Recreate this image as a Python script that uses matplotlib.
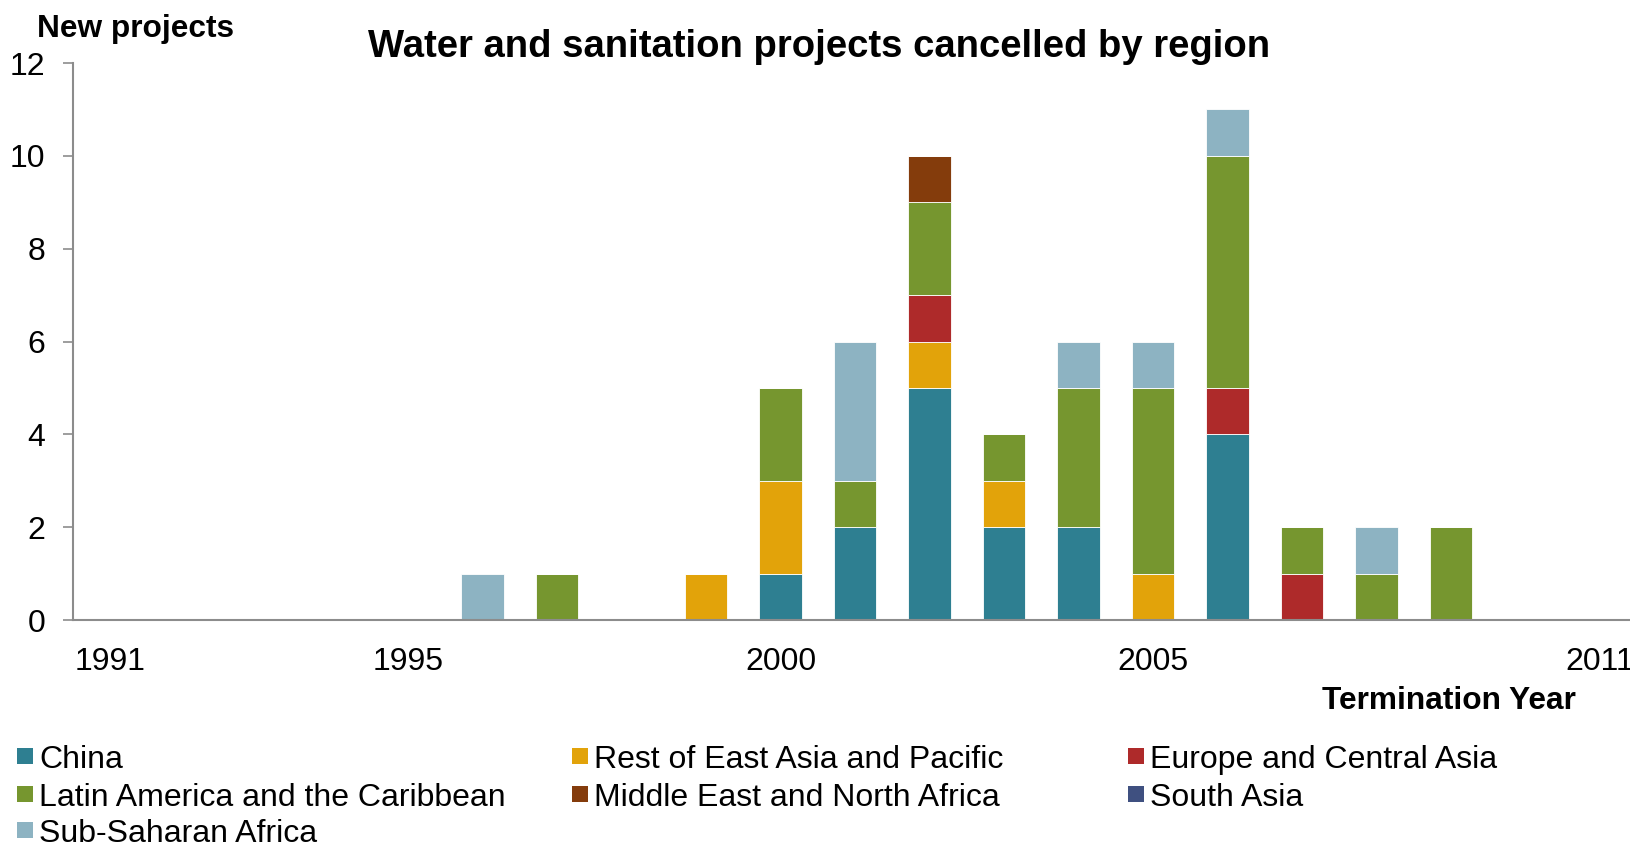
import matplotlib
matplotlib.use("Agg")
import matplotlib.pyplot as plt
from matplotlib.patches import Rectangle
import numpy as np

plt.rcParams['font.family'] = ['Liberation Sans', 'DejaVu Sans']

years = list(range(1991, 2012))
regions = ["China", "Rest of East Asia and Pacific", "Europe and Central Asia",
           "Latin America and the Caribbean", "Middle East and North Africa",
           "South Asia", "Sub-Saharan Africa"]
colors = ["#2E7F91", "#E2A30A", "#AE2A2A", "#76962F", "#843C0C", "#3F5080", "#8DB3C2"]

#            1991..2011
china = [0,0,0,0,0,0,0,0,0,1,2,5,2,2,0,4,0,0,0,0,0]
reap  = [0,0,0,0,0,0,0,0,1,2,0,1,1,0,1,0,0,0,0,0,0]
eca   = [0,0,0,0,0,0,0,0,0,0,0,1,0,0,0,1,1,0,0,0,0]
lac   = [0,0,0,0,0,0,1,0,0,2,1,2,1,3,4,5,1,1,2,0,0]
mena  = [0,0,0,0,0,0,0,0,0,0,0,1,0,0,0,0,0,0,0,0,0]
sa    = [0,0,0,0,0,0,0,0,0,0,0,0,0,0,0,0,0,0,0,0,0]
ssa   = [0,0,0,0,0,1,0,0,0,0,3,0,0,1,1,1,0,1,0,0,0]
series = [china, reap, eca, lac, mena, sa, ssa]

xtick_labels = {1991: "1991", 1995: "1995", 2000: "2000", 2005: "2005", 2011: "2011"}

W, H = 1631, 846
fig = plt.figure(figsize=(W / 100, H / 100), dpi=100)
ax = fig.add_axes([0.0448, 0.267, 0.9552, 0.6585])

bottom = np.zeros(len(years))
for vals, col, name in zip(series, colors, regions):
    v = np.array(vals, dtype=float)
    ax.bar(years, v, bottom=bottom, width=0.57, color=col, edgecolor='white',
           linewidth=0.6, label=name)
    bottom += v

ax.set_xlim(1990.5, 2011.42)
ax.set_ylim(0, 12)
ax.set_yticks(range(0, 13, 2))
ax.set_xticks(list(xtick_labels.keys()))
ax.set_xticklabels(list(xtick_labels.values()))
for s in ['top', 'right']:
    ax.spines[s].set_visible(False)
for s in ['left', 'bottom']:
    ax.spines[s].set_color('#8C8C8C')
    ax.spines[s].set_linewidth(1.5)
ax.tick_params(axis='y', direction='out', length=7, width=1.2, color='#8C8C8C',
               labelsize=23, pad=13)
ax.tick_params(axis='x', length=0, labelsize=23, pad=19)

fig.text(0.502, 0.944, "Water and sanitation projects cancelled by region",
         ha='center', va='center', fontsize=27.5, fontweight='bold')
fig.text(0.083, 0.966, "New projects", ha='center', va='center', fontsize=22.8,
         fontweight='bold')
fig.text(0.966, 0.171, "Termination Year", ha='right', va='center', fontsize=22.8,
         fontweight='bold')

# legend, laid out in three columns
col_x = [17, 572, 1128]          # marker left edge, px
row_y = [756, 794, 830]          # row centre, px from top
layout = [(0, 0, 0), (3, 0, 1), (6, 0, 2), (1, 1, 0), (4, 1, 1), (2, 2, 0), (5, 2, 1)]
sq = 16
for idx, c, r in layout:
    x0 = col_x[c]
    yc = H - row_y[r]
    fig.patches.append(Rectangle((x0 / W, (yc - sq / 2) / H), sq / W, sq / H,
                                 transform=fig.transFigure, facecolor=colors[idx],
                                 edgecolor='none'))
    fig.text((x0 + sq + 6) / W, yc / H, regions[idx], ha='left', va='center_baseline',
             fontsize=23)

fig.savefig("out.png", dpi=100)
